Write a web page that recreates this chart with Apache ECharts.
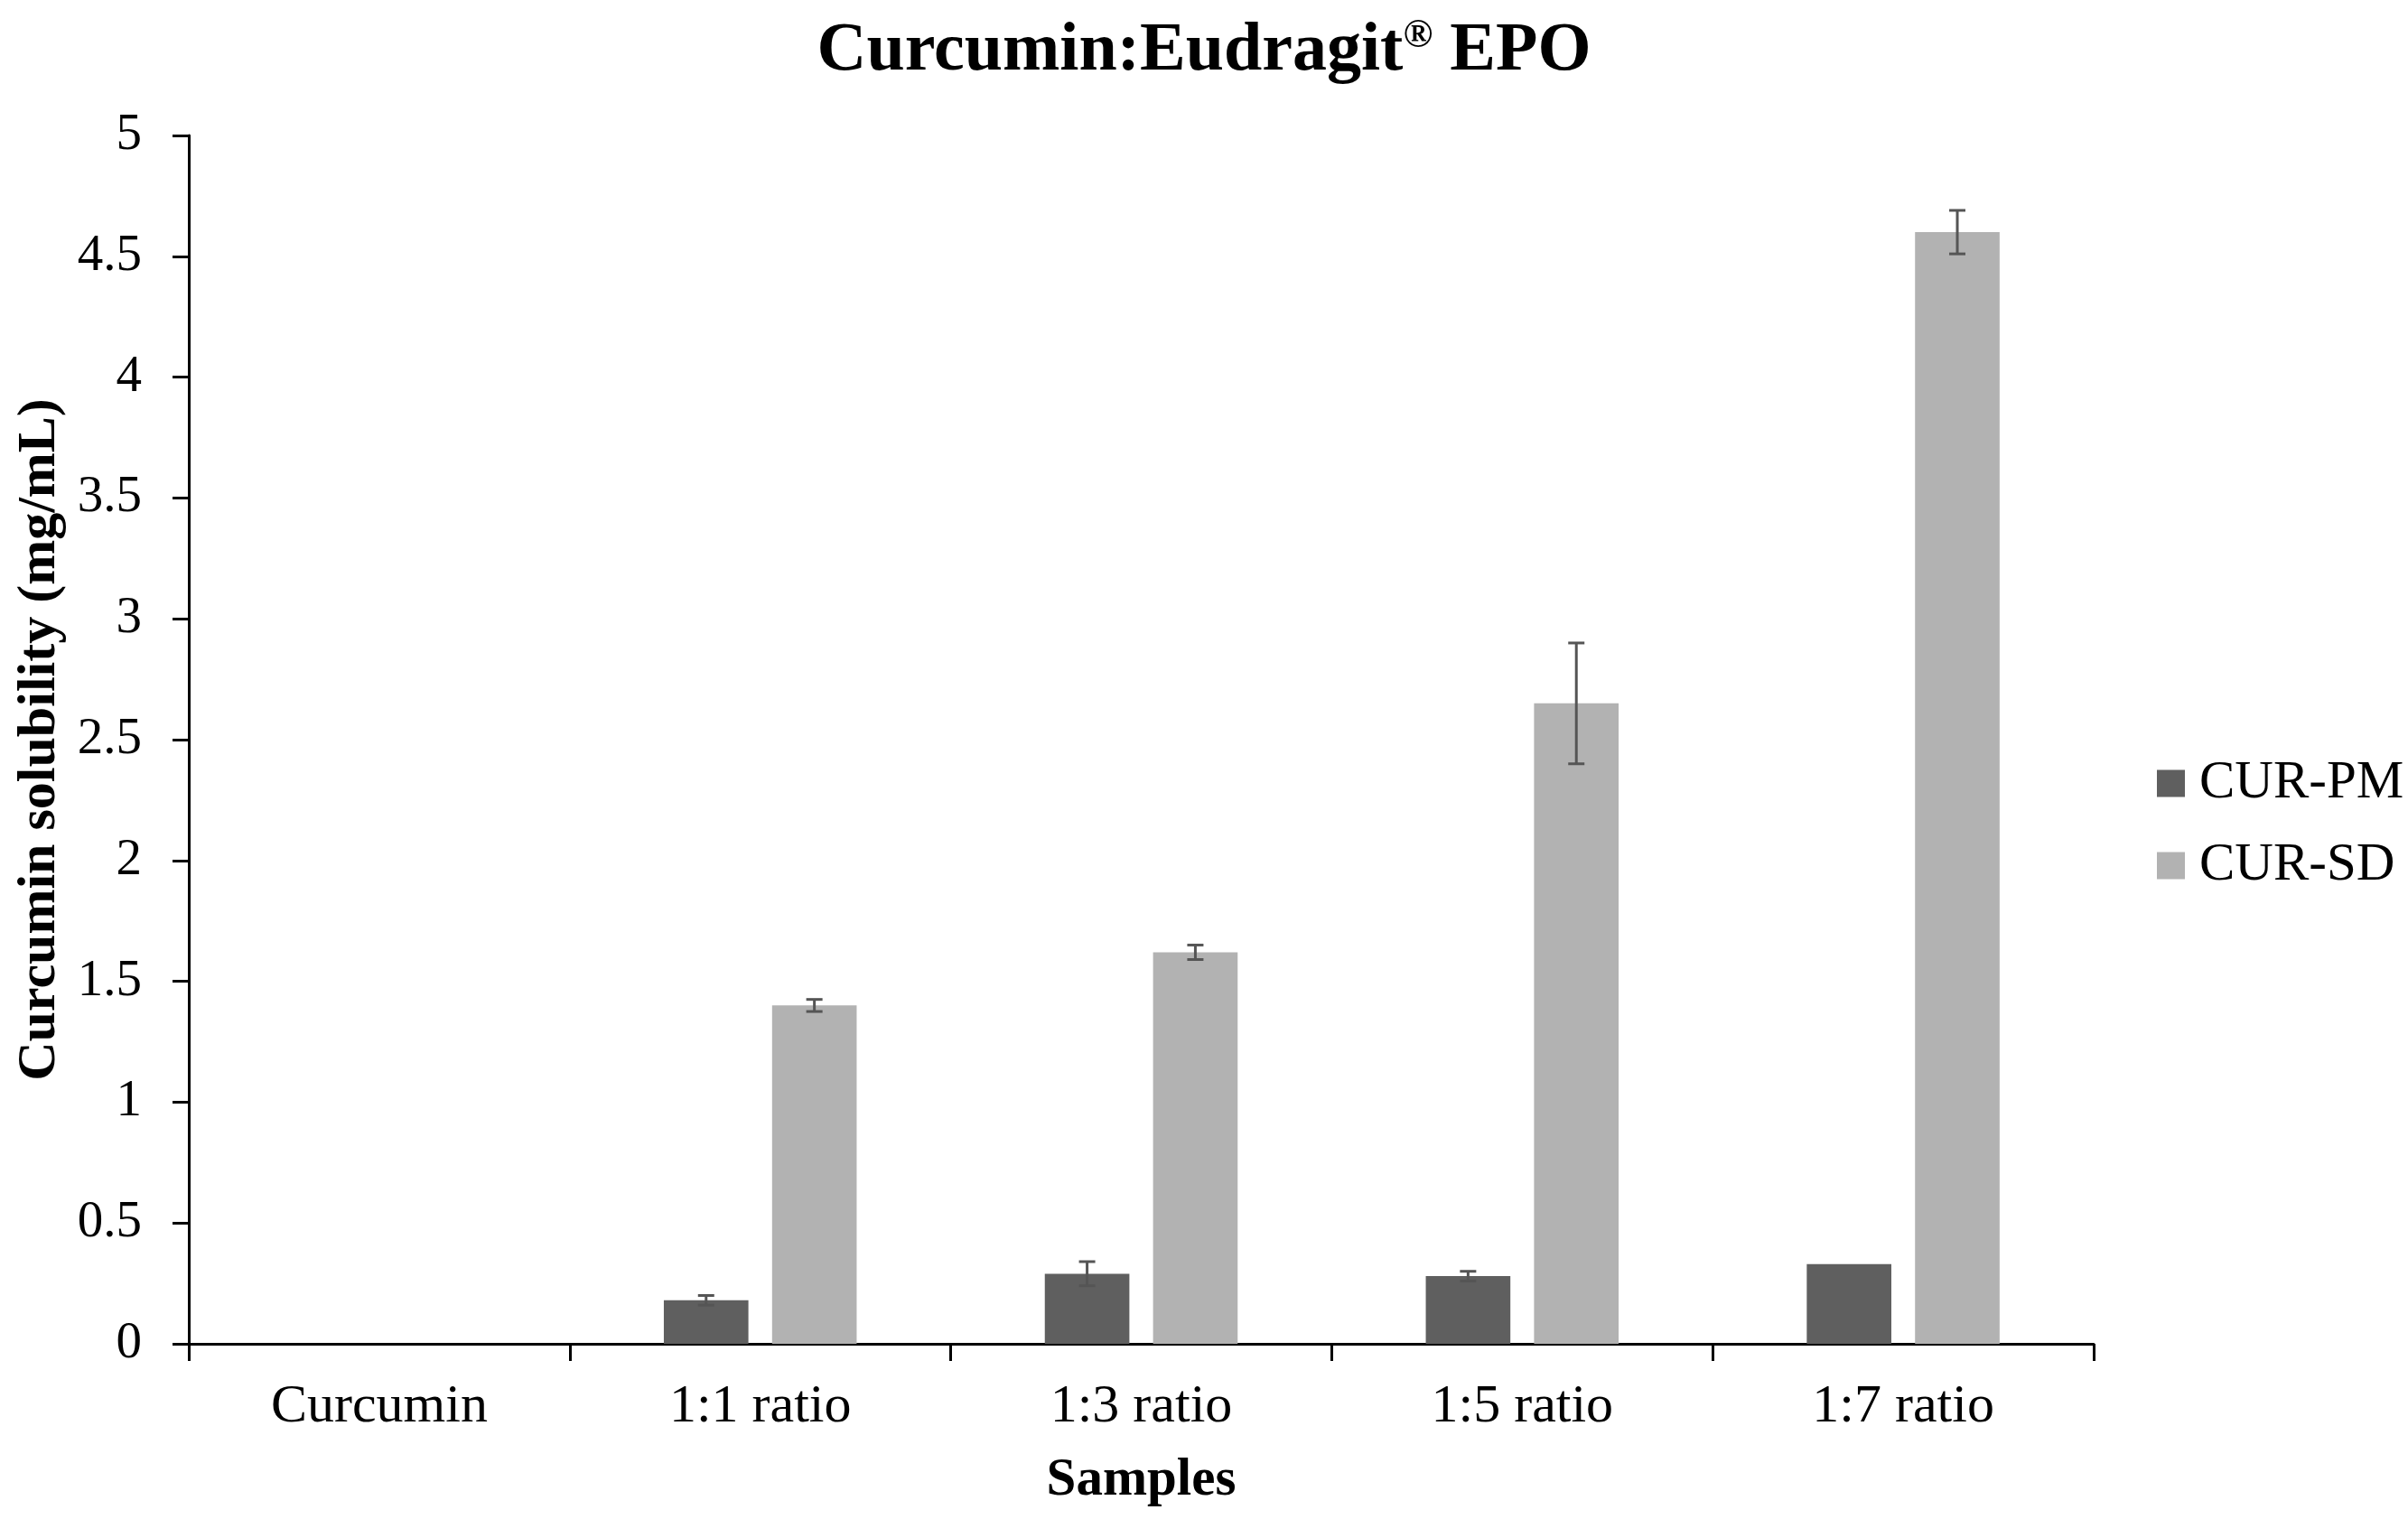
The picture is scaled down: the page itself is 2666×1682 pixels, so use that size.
<!DOCTYPE html>
<html><head><meta charset="utf-8">
<script src="https://cdn.jsdelivr.net/npm/echarts@6/dist/echarts.min.js"></script>
<style>html,body{margin:0;padding:0;background:#fff}#c{width:2666px;height:1682px}</style>
</head><body><div id="c"></div>
<script>
const categories = ['Curcumin', '1:1 ratio', '1:3 ratio', '1:5 ratio', '1:7 ratio'];
const seriesNames = ['CUR-PM', 'CUR-SD'];
const pmValues = [0, 0.18, 0.29, 0.28, 0.33];
const pmErrors = [0, 0.02, 0.05, 0.02, 0];
const sdValues = [0, 1.40, 1.62, 2.65, 4.60];
const sdErrors = [0, 0.025, 0.03, 0.25, 0.09];
const yMin = 0, yMax = 5, yInterval = 0.5;

const FONT = 'Liberation Serif';
const BAR_W = 0.222, BAR_GAP = 0.28;
const colors = ['#5f5f5f', '#b2b2b2'];

function errRenderer(sign) {
  return function (params, api) {
    const i = api.value(0), v = api.value(1), e = api.value(2);
    if (!e) return null;
    const band = api.size([1, 0])[0];
    const bw = band * BAR_W, gap = bw * BAR_GAP;
    const x = api.coord([i, v])[0] + sign * (bw + gap) / 2;
    const yt = api.coord([i, v + e])[1], yb = api.coord([i, v - e])[1];
    const cap = 9;
    const st = { stroke: '#555555', lineWidth: 3 };
    return { type: 'group', children: [
      { type: 'line', shape: { x1: x, y1: yt, x2: x, y2: yb }, style: st },
      { type: 'line', shape: { x1: x - cap, y1: yt, x2: x + cap, y2: yt }, style: st },
      { type: 'line', shape: { x1: x - cap, y1: yb, x2: x + cap, y2: yb }, style: st }
    ]};
  };
}

const chart = echarts.init(document.getElementById('c'));
chart.setOption({
  backgroundColor: '#ffffff',
  animation: false,
  title: {
    text: 'Curcumin:Eudragit{sup|®} EPO',
    left: 'center', top: 14,
    textStyle: {
      fontFamily: FONT, fontWeight: 'bold', fontSize: 76, color: '#000',
      rich: { sup: { fontFamily: FONT, fontWeight: 'bold', fontSize: 44, color: '#000', verticalAlign: 'top' } }
    }
  },
  grid: { left: 209, right: 348, top: 150, bottom: 194, containLabel: false },
  legend: {
    orient: 'vertical', left: 2383, top: 833,
    data: seriesNames, icon: 'rect', itemWidth: 31, itemHeight: 30, itemGap: 32,
    textStyle: { fontFamily: FONT, fontSize: 59, lineHeight: 58, color: '#000', padding: [0, 0, 0, 11] }
  },
  xAxis: {
    type: 'category', data: categories,
    name: 'Samples', nameLocation: 'middle', nameGap: 122,
    nameTextStyle: { fontFamily: FONT, fontWeight: 'bold', fontSize: 59, color: '#000' },
    axisLine: { lineStyle: { color: '#000', width: 3 } },
    axisTick: { show: true, length: 19, lineStyle: { color: '#000', width: 3 } },
    axisLabel: { fontFamily: FONT, fontSize: 60, color: '#000', margin: 40 },
    splitLine: { show: false }
  },
  yAxis: {
    type: 'value', min: yMin, max: yMax, interval: yInterval,
    name: 'Curcumin solubility (mg/mL)', nameLocation: 'middle', nameGap: 130, nameRotate: 90,
    nameTextStyle: { fontFamily: FONT, fontWeight: 'bold', fontSize: 60, color: '#000' },
    axisLine: { show: true, lineStyle: { color: '#000', width: 3 } },
    axisTick: { show: true, length: 18, lineStyle: { color: '#000', width: 3 } },
    axisLabel: { fontFamily: FONT, fontSize: 57, color: '#000', margin: 52 },
    splitLine: { show: false }
  },
  series: [
    { name: seriesNames[0], type: 'bar', data: pmValues, barWidth: (BAR_W * 100) + '%', barGap: (BAR_GAP * 100) + '%',
      itemStyle: { color: colors[0] } },
    { name: seriesNames[1], type: 'bar', data: sdValues, barWidth: (BAR_W * 100) + '%', barGap: (BAR_GAP * 100) + '%',
      itemStyle: { color: colors[1] } },
    { name: 'errPM', type: 'custom', z: 10, renderItem: errRenderer(-1),
      data: pmValues.map((v, i) => [i, v, pmErrors[i]]), encode: { x: 0, y: 1 } },
    { name: 'errSD', type: 'custom', z: 10, renderItem: errRenderer(1),
      data: sdValues.map((v, i) => [i, v, sdErrors[i]]), encode: { x: 0, y: 1 } }
  ]
});
</script></body></html>
